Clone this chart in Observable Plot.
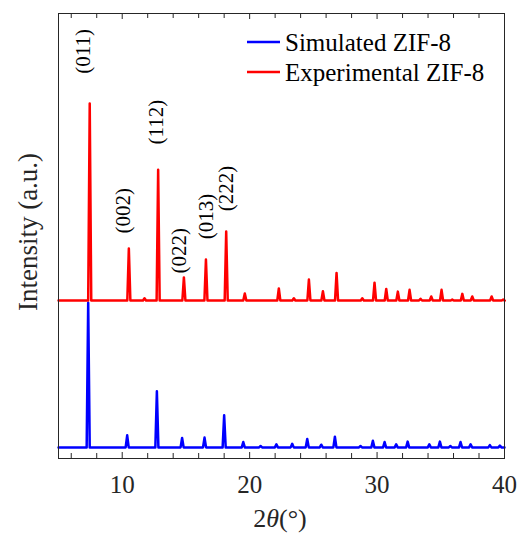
<!DOCTYPE html>
<html>
<head>
<meta charset="utf-8">
<script src="https://cdn.jsdelivr.net/npm/d3@7"></script>
<script src="https://cdn.jsdelivr.net/npm/@observablehq/plot@0.6"></script>
<style>
  body { margin: 0; background: #fff; }
  #chart svg { display: block; }
</style>
</head>
<body>
<div id="chart"></div>
<script>
// ---- data ----
// Simulated ZIF-8 (blue): peak positions (2θ, °) and peak-top intensities (a.u., offset stack)
const simPos = [7.33, 10.39, 12.72, 14.70, 16.46, 18.00, 19.50, 20.86, 22.10, 23.34, 24.52, 25.62, 26.69, 28.70, 29.67, 30.59, 31.50, 32.40, 34.10, 34.93, 35.75, 36.55, 37.34, 38.85, 39.64];
const simInt = [35.0, 5.2, 15.1, 4.6, 4.7, 9.7, 3.7, 2.8, 3.2, 3.3, 4.4, 3.1, 4.9, 2.8, 4.0, 3.7, 3.2, 3.8, 3.2, 3.8, 2.8, 3.7, 3.2, 3.0, 2.9];
const simBase = 2.5;

// Experimental ZIF-8 (red)
const expPos = [7.45, 10.52, 11.75, 12.82, 14.84, 16.57, 18.16, 19.62, 22.29, 23.47, 24.65, 25.75, 26.82, 28.84, 29.80, 30.72, 31.63, 32.55, 33.41, 34.25, 35.06, 35.90, 36.69, 37.47, 38.99, 39.90];
const expInt = [79.8, 47.2, 36.0, 64.9, 40.7, 44.7, 51.0, 37.1, 38.2, 36.0, 40.2, 37.6, 41.7, 36.0, 39.5, 38.1, 37.5, 37.9, 35.9, 36.4, 37.9, 35.7, 37.0, 36.4, 36.4, 35.7];
const expBase = 35.5;

// Miller index annotations
const hklLabels = ["(011)", "(002)", "(112)", "(022)", "(013)", "(222)"];
const hklX = [6.96, 10.10, 12.65, 14.50, 16.60, 18.20];
const hklY = [91.5, 55.7, 75.6, 46.7, 54.4, 60.7];

const xTicksMajor = [10, 20, 30, 40];
const xTicksMinor = [6, 8, 12, 14, 16, 18, 22, 24, 26, 28, 32, 34, 36, 38];
const seriesNames = ["Simulated ZIF-8", "Experimental ZIF-8"];
const seriesColors = ["#0000ff", "#ff0000"];

// ---- build line tables from the peak lists ----
const hw = 0.12;
function pattern(pos, ints, base) {
  const pts = [{x: 5, y: base}];
  pos.forEach((p, i) => {
    pts.push({x: p - hw, y: base}, {x: p, y: ints[i]}, {x: p + hw, y: base});
  });
  pts.push({x: 40, y: base});
  return pts;
}
const simData = pattern(simPos, simInt, simBase);
const expData = pattern(expPos, expInt, expBase);
const labelData = hklLabels.map((t, i) => ({t, x: hklX[i], y: hklY[i]}));

const W = 519, H = 533;
const mTop = 13, mBottom = 75;
const innerH = H - mTop - mBottom;
const font = "'Liberation Serif', 'Times New Roman', serif";
const ink = "#262626";

const plot = Plot.plot({
  width: W,
  height: H,
  marginLeft: 58,
  marginRight: 15,
  marginTop: mTop,
  marginBottom: mBottom,
  style: {fontFamily: font, background: "#fff", color: ink},
  x: {domain: [5, 40], label: null},
  y: {domain: [0, 100], axis: null},
  marks: [
    Plot.line(simData, {x: "x", y: "y", stroke: seriesColors[0], strokeWidth: 2.5, strokeLinejoin: "round"}),
    Plot.line(expData, {x: "x", y: "y", stroke: seriesColors[1], strokeWidth: 2.5, strokeLinejoin: "round"}),
    Plot.text(labelData, {x: "x", y: "y", text: "t", rotate: -90, fontSize: 21, fontFamily: font, fill: "#000", textAnchor: "middle", lineAnchor: "middle"}),
    // inward ticks, bottom and top
    Plot.tickX(xTicksMinor, {x: d => d, insetTop: innerH - 5, stroke: ink, strokeWidth: 1}),
    Plot.tickX(xTicksMajor, {x: d => d, insetTop: innerH - 6, stroke: ink, strokeWidth: 1}),
    Plot.tickX(xTicksMinor, {x: d => d, insetBottom: innerH - 5, stroke: ink, strokeWidth: 1}),
    Plot.tickX(xTicksMajor, {x: d => d, insetBottom: innerH - 6, stroke: ink, strokeWidth: 1}),
    Plot.axisX(xTicksMajor, {anchor: "bottom", tickSize: 0, tickPadding: 17, fontSize: 25, fontFamily: font, fill: ink, label: null}),
    Plot.frame({stroke: ink, strokeWidth: 1})
  ]
});
document.getElementById("chart").appendChild(plot);

// ---- axis titles and legend ----
const svg = d3.select(plot);
const xl = svg.append("text")
  .attr("x", 280).attr("y", 527)
  .attr("text-anchor", "middle")
  .style("font-family", font).attr("font-size", 26).attr("fill", ink);
xl.append("tspan").text("2");
xl.append("tspan").attr("font-style", "italic").text("θ");
xl.append("tspan").text("(°)");

svg.append("text")
  .attr("transform", "translate(28,232) rotate(-90)")
  .attr("text-anchor", "middle")
  .attr("dominant-baseline", "central")
  .style("font-family", font).attr("font-size", 27).attr("fill", ink)
  .text("Intensity (a.u.)");

const legY = [42, 72];
seriesNames.forEach((name, i) => {
  svg.append("line")
    .attr("x1", 247).attr("x2", 280)
    .attr("y1", legY[i]).attr("y2", legY[i])
    .attr("stroke", seriesColors[i]).attr("stroke-width", 2.5);
  svg.append("text")
    .attr("x", 285).attr("y", legY[i] + 9)
    .attr("text-anchor", "start")
    .style("font-family", font).attr("font-size", 25).attr("fill", "#000")
    .text(name);
});
</script>
</body>
</html>
